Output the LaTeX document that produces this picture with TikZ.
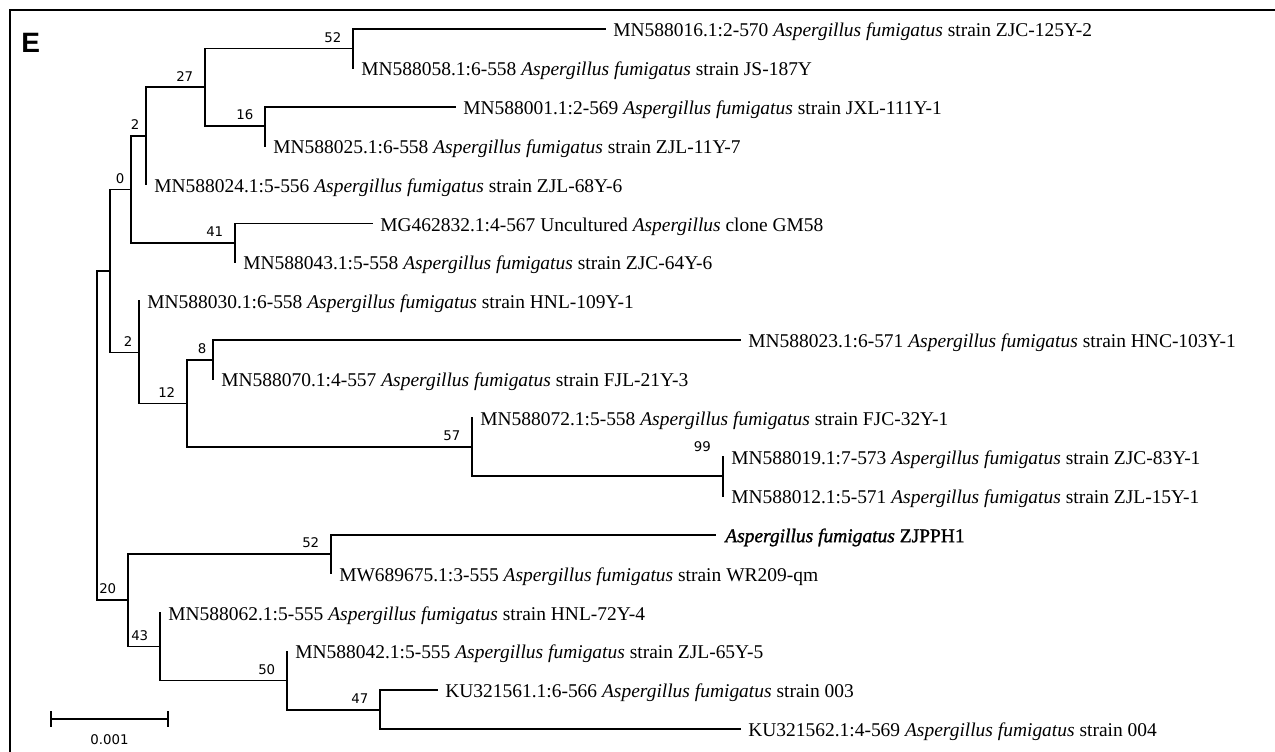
\documentclass[tikz,border=0pt]{standalone}
\usepackage{fontspec}
\setmainfont{Liberation Serif}
\newfontfamily\bsfont{DejaVu Sans}
\newfontfamily\labfont{Liberation Sans}
\newfontfamily\zjfont[FakeBold=1.2]{Liberation Serif}
\usetikzlibrary{calc}
\newcommand\Af{\textit{Aspergillus fumigatus}}
\begin{document}
\begin{tikzpicture}[x=0.75pt,y=-0.75pt,
  br/.style={line width=1.3pt, line cap=rect},
  bs/.style={font=\bsfont\fontsize{10}{12}\selectfont, inner sep=0pt, anchor=south east},
  tip/.style={font=\fontsize{14.6}{17}\selectfont, inner sep=0pt, anchor=base west}]
\useasboundingbox (0,0) rectangle (1275,751);
\draw[line width=2pt] (10,760) -- (10,10) -- (1285,10);
\node[font=\labfont\bfseries\fontsize{21}{24}\selectfont, anchor=base west, inner sep=0pt] (E) at (21,52) {E};
% internal nodes
\coordinate (root) at (97,435.6);
\coordinate (nA) at (110,270.91);
\coordinate (n0) at (131,189.46);
\coordinate (n2a) at (146,135.98);
\coordinate (n27) at (205,87.35);
\coordinate (n52a) at (353,48.45);
\coordinate (n16) at (265,126.25);
\coordinate (n41) at (235,242.95);
\coordinate (n2b) at (139,352.36);
\coordinate (n12) at (187,403.41);
\coordinate (n8) at (213,359.65);
\coordinate (n57) at (472,447.18);
\coordinate (n99) at (723,476.35);
\coordinate (n20) at (128,600.34);
\coordinate (n52b) at (331,554.15);
\coordinate (n43) at (160,646.54);
\coordinate (n50) at (287,680.58);
\coordinate (n47) at (380,709.75);
% tips
\coordinate (t1) at (605,29);
\coordinate (t2) at (353,67.9);
\coordinate (t3) at (455,106.8);
\coordinate (t4) at (265,145.7);
\coordinate (t5) at (146,184.6);
\coordinate (t6) at (372,223.5);
\coordinate (t7) at (235,262.4);
\coordinate (t8) at (139,301.3);
\coordinate (t9) at (740,340.2);
\coordinate (t10) at (213,379.1);
\coordinate (t11) at (472,418);
\coordinate (t12) at (723,456.9);
\coordinate (t13) at (723,495.8);
\coordinate (t14) at (715,534.7);
\coordinate (t15) at (331,573.6);
\coordinate (t16) at (160,612.5);
\coordinate (t17) at (287,651.4);
\coordinate (t18) at (437,690.3);
\coordinate (t19) at (740,729.2);
% branches
\foreach \p/\c in {root/nA,root/n20,nA/n0,nA/n2b,n0/n2a,n0/n41,n2a/n27,n2a/t5,
  n27/n52a,n27/n16,n52a/t1,n52a/t2,n16/t3,n16/t4,n41/t6,n41/t7,n2b/t8,n2b/n12,
  n12/n8,n12/n57,n8/t9,n8/t10,n57/t11,n57/n99,n99/t12,n99/t13,n20/n52b,n20/n43,
  n52b/t14,n52b/t15,n43/t16,n43/n50,n50/t17,n50/n47,n47/t18,n47/t19}
  \draw[br] (\p) |- (\c);
% bootstrap values
\node[bs] (b52a) at ($(n52a)+(-11.5,-6)$) {52};
\node[bs] (b27) at ($(n27)+(-11.5,-6)$) {27};
\node[bs] (b16) at ($(n16)+(-11.5,-6)$) {16};
\node[bs] (b2a) at ($(n2a)+(-6.5,-6)$) {2};
\node[bs] (b0) at ($(n0)+(-6.5,-6)$) {0};
\node[bs] (b41) at ($(n41)+(-11.5,-6)$) {41};
\node[bs] (b2b) at ($(n2b)+(-6.5,-6)$) {2};
\node[bs] (b12) at ($(n12)+(-11.5,-6)$) {12};
\node[bs] (b8) at ($(n8)+(-6.5,-6)$) {8};
\node[bs] (b57) at ($(n57)+(-11.5,-6)$) {57};
\node[bs] (b99) at ($(n99)+(-12,-24)$) {99};
\node[bs] (b20) at ($(n20)+(-11.5,-6)$) {20};
\node[bs] (b52b) at ($(n52b)+(-11.5,-6)$) {52};
\node[bs] (b43) at ($(n43)+(-11.5,-6)$) {43};
\node[bs] (b50) at ($(n50)+(-11.5,-6)$) {50};
\node[bs] (b47) at ($(n47)+(-11.5,-6)$) {47};
% tip labels
\node[tip] (x1) at ($(t1)+(8,7.5)$) {MN588016.1:2-570 \Af{} strain ZJC-125Y-2};
\node[tip] (x2) at ($(t2)+(8,7.5)$) {MN588058.1:6-558 \Af{} strain JS-187Y};
\node[tip] (x3) at ($(t3)+(8,7.5)$) {MN588001.1:2-569 \Af{} strain JXL-111Y-1};
\node[tip] (x4) at ($(t4)+(8,7.5)$) {MN588025.1:6-558 \Af{} strain ZJL-11Y-7};
\node[tip] (x5) at ($(t5)+(8,7.5)$) {MN588024.1:5-556 \Af{} strain ZJL-68Y-6};
\node[tip] (x6) at ($(t6)+(8,7.5)$) {MG462832.1:4-567 Uncultured \textit{Aspergillus} clone GM58};
\node[tip] (x7) at ($(t7)+(8,7.5)$) {MN588043.1:5-558 \Af{} strain ZJC-64Y-6};
\node[tip] (x8) at ($(t8)+(8,7.5)$) {MN588030.1:6-558 \Af{} strain HNL-109Y-1};
\node[tip] (x9) at ($(t9)+(8,7.5)$) {MN588023.1:6-571 \Af{} strain HNC-103Y-1};
\node[tip] (x10) at ($(t10)+(8,7.5)$) {MN588070.1:4-557 \Af{} strain FJL-21Y-3};
\node[tip] (x11) at ($(t11)+(8,7.5)$) {MN588072.1:5-558 \Af{} strain FJC-32Y-1};
\node[tip] (x12) at ($(t12)+(8,7.5)$) {MN588019.1:7-573 \Af{} strain ZJC-83Y-1};
\node[tip] (x13) at ($(t13)+(8,7.5)$) {MN588012.1:5-571 \Af{} strain ZJL-15Y-1};
\node[tip] (x14) at ($(t14)+(10,7.5)$) {\zjfont\textit{Aspergillus fumigatus} ZJPPH1};
\node[tip] (x15) at ($(t15)+(8,7.5)$) {MW689675.1:3-555 \Af{} strain WR209-qm};
\node[tip] (x16) at ($(t16)+(8,7.5)$) {MN588062.1:5-555 \Af{} strain HNL-72Y-4};
\node[tip] (x17) at ($(t17)+(8,7.5)$) {MN588042.1:5-555 \Af{} strain ZJL-65Y-5};
\node[tip] (x18) at ($(t18)+(8,7.5)$) {KU321561.1:6-566 \Af{} strain 003};
\node[tip] (x19) at ($(t19)+(8,7.5)$) {KU321562.1:4-569 \Af{} strain 004};
% scale bar
\coordinate (s1) at (51,719);
\coordinate (s2) at (168,719);
\draw[br] (s1) -- (s2);
\draw[br] ($(s1)+(0,-7)$) -- ($(s1)+(0,7)$);
\draw[br] ($(s2)+(0,-7)$) -- ($(s2)+(0,7)$);
\node[bs, anchor=center] (sl) at (109.5,740) {0.001};
\end{tikzpicture}
\end{document}
